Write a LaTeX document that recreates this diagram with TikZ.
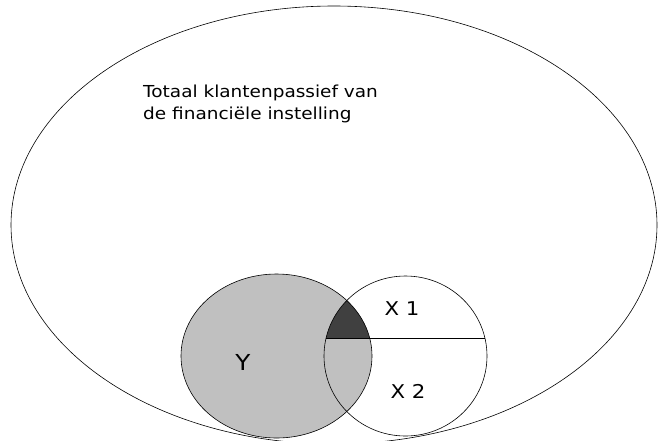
\documentclass[tikz,border=0pt]{standalone}
\usepackage{fontspec}
\setmainfont{DejaVu Sans}
\newfontfamily\widefont[FakeStretch=1.12]{DejaVu Sans}
\definecolor{lightgray}{HTML}{C0C0C0}
\definecolor{darkfill}{HTML}{404040}
\begin{document}
\begin{tikzpicture}[x=1pt,y=-1pt,
  outline/.style={draw=black,line width=0.6pt},
  lbl/.style={font=\widefont\fontsize{19}{19}\selectfont,inner sep=0pt},
  ttl/.style={font=\widefont\fontsize{16.5}{20}\selectfont,inner sep=0pt,anchor=base west}]
\useasboundingbox (0,0) rectangle (658,440);
\clip (0,0) rectangle (658,440);
% universe
\draw[outline] (334,225) ellipse [x radius=323pt, y radius=219pt];
% Y
\fill[lightgray] (276.5,356) ellipse [x radius=95.5pt, y radius=82pt];
% dark intersection above the line
\begin{scope}
  \clip (0,0) rectangle (658,338.7);
  \clip (276.5,356) ellipse [x radius=95.5pt, y radius=82pt];
  \fill[darkfill] (405.5,356) ellipse [x radius=81.5pt, y radius=80pt];
\end{scope}
\draw[outline] (276.5,356) ellipse [x radius=95.5pt, y radius=82pt];
% X
\draw[outline] (405.5,356) ellipse [x radius=81.5pt, y radius=80pt];
\coordinate (lineL) at (326.3,338.7);
\coordinate (lineR) at (484.7,338.7);
\draw[outline] (lineL) -- (lineR);
% texts
\node[ttl] (t1) at (143,97.5) {Totaal klantenpassief van};
\node[ttl] (t2) at (143,119) {de financiële instelling};
\node[lbl,font=\widefont\fontsize{22}{22}\selectfont] (y) at (243,362) {Y};
\node[lbl] (x1) at (402,309) {X 1};
\node[lbl] (x2) at (408,391) {X 2};
\end{tikzpicture}
\end{document}
